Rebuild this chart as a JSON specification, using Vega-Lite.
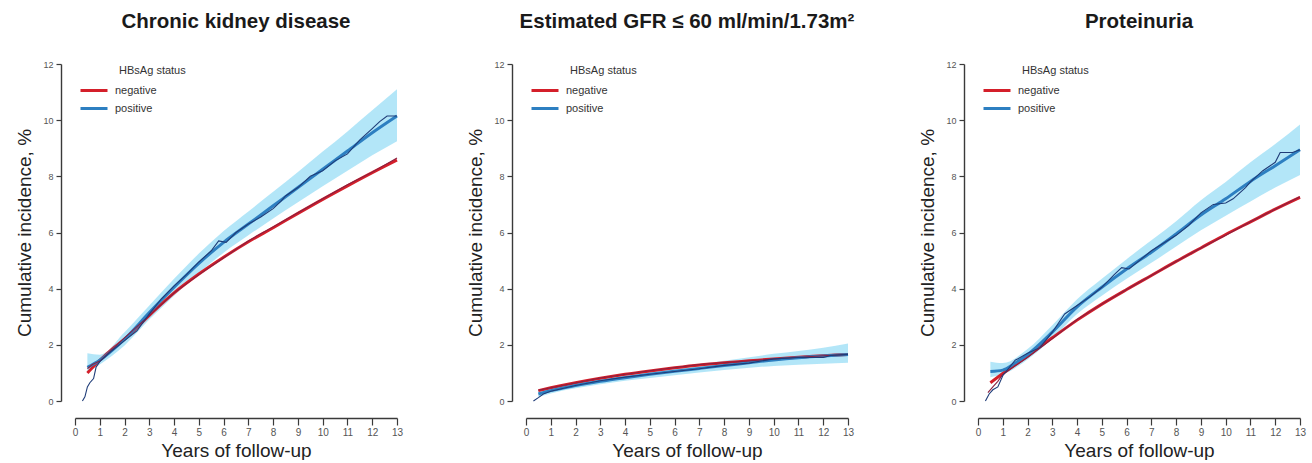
{
  "$schema": "https://vega.github.io/schema/vega-lite/v6.json",
  "padding": {"left": 15, "top": 11, "right": 5, "bottom": 0},
  "background": "white",
  "datasets": {
    "fits": [
      {"panel": "CKD", "status": "negative", "year": 0.5, "value": 1.0},
      {"panel": "CKD", "status": "negative", "year": 1, "value": 1.45},
      {"panel": "CKD", "status": "negative", "year": 1.5, "value": 1.85},
      {"panel": "CKD", "status": "negative", "year": 2, "value": 2.2},
      {"panel": "CKD", "status": "negative", "year": 3, "value": 3.05},
      {"panel": "CKD", "status": "negative", "year": 4, "value": 3.85},
      {"panel": "CKD", "status": "negative", "year": 5, "value": 4.52},
      {"panel": "CKD", "status": "negative", "year": 6, "value": 5.12},
      {"panel": "CKD", "status": "negative", "year": 7, "value": 5.67},
      {"panel": "CKD", "status": "negative", "year": 8, "value": 6.17},
      {"panel": "CKD", "status": "negative", "year": 9, "value": 6.68},
      {"panel": "CKD", "status": "negative", "year": 10, "value": 7.18},
      {"panel": "CKD", "status": "negative", "year": 11, "value": 7.66},
      {"panel": "CKD", "status": "negative", "year": 12, "value": 8.13},
      {"panel": "CKD", "status": "negative", "year": 13, "value": 8.58},
      {"panel": "CKD", "status": "positive", "year": 0.5, "value": 1.2},
      {"panel": "CKD", "status": "positive", "year": 1, "value": 1.45},
      {"panel": "CKD", "status": "positive", "year": 1.5, "value": 1.8},
      {"panel": "CKD", "status": "positive", "year": 2, "value": 2.2},
      {"panel": "CKD", "status": "positive", "year": 3, "value": 3.15},
      {"panel": "CKD", "status": "positive", "year": 4, "value": 4.05},
      {"panel": "CKD", "status": "positive", "year": 5, "value": 4.9},
      {"panel": "CKD", "status": "positive", "year": 6, "value": 5.65},
      {"panel": "CKD", "status": "positive", "year": 7, "value": 6.3},
      {"panel": "CKD", "status": "positive", "year": 8, "value": 6.95},
      {"panel": "CKD", "status": "positive", "year": 9, "value": 7.6},
      {"panel": "CKD", "status": "positive", "year": 10, "value": 8.25},
      {"panel": "CKD", "status": "positive", "year": 11, "value": 8.9},
      {"panel": "CKD", "status": "positive", "year": 12, "value": 9.55},
      {"panel": "CKD", "status": "positive", "year": 13, "value": 10.15},
      {"panel": "GFR", "status": "negative", "year": 0.5, "value": 0.37},
      {"panel": "GFR", "status": "negative", "year": 1, "value": 0.47},
      {"panel": "GFR", "status": "negative", "year": 2, "value": 0.65},
      {"panel": "GFR", "status": "negative", "year": 3, "value": 0.81},
      {"panel": "GFR", "status": "negative", "year": 4, "value": 0.95},
      {"panel": "GFR", "status": "negative", "year": 5, "value": 1.07},
      {"panel": "GFR", "status": "negative", "year": 6, "value": 1.18},
      {"panel": "GFR", "status": "negative", "year": 7, "value": 1.28},
      {"panel": "GFR", "status": "negative", "year": 8, "value": 1.36},
      {"panel": "GFR", "status": "negative", "year": 9, "value": 1.43},
      {"panel": "GFR", "status": "negative", "year": 10, "value": 1.5},
      {"panel": "GFR", "status": "negative", "year": 11, "value": 1.56},
      {"panel": "GFR", "status": "negative", "year": 12, "value": 1.61},
      {"panel": "GFR", "status": "negative", "year": 13, "value": 1.66},
      {"panel": "GFR", "status": "positive", "year": 0.5, "value": 0.25},
      {"panel": "GFR", "status": "positive", "year": 1, "value": 0.37},
      {"panel": "GFR", "status": "positive", "year": 2, "value": 0.55},
      {"panel": "GFR", "status": "positive", "year": 3, "value": 0.7},
      {"panel": "GFR", "status": "positive", "year": 4, "value": 0.83},
      {"panel": "GFR", "status": "positive", "year": 5, "value": 0.95},
      {"panel": "GFR", "status": "positive", "year": 6, "value": 1.06},
      {"panel": "GFR", "status": "positive", "year": 7, "value": 1.16},
      {"panel": "GFR", "status": "positive", "year": 8, "value": 1.26},
      {"panel": "GFR", "status": "positive", "year": 9, "value": 1.36},
      {"panel": "GFR", "status": "positive", "year": 10, "value": 1.46},
      {"panel": "GFR", "status": "positive", "year": 11, "value": 1.54},
      {"panel": "GFR", "status": "positive", "year": 12, "value": 1.6},
      {"panel": "GFR", "status": "positive", "year": 13, "value": 1.66},
      {"panel": "PRO", "status": "negative", "year": 0.5, "value": 0.65},
      {"panel": "PRO", "status": "negative", "year": 1, "value": 0.98},
      {"panel": "PRO", "status": "negative", "year": 2, "value": 1.6},
      {"panel": "PRO", "status": "negative", "year": 3, "value": 2.25},
      {"panel": "PRO", "status": "negative", "year": 4, "value": 2.88},
      {"panel": "PRO", "status": "negative", "year": 5, "value": 3.45},
      {"panel": "PRO", "status": "negative", "year": 6, "value": 3.97},
      {"panel": "PRO", "status": "negative", "year": 7, "value": 4.47},
      {"panel": "PRO", "status": "negative", "year": 8, "value": 4.97},
      {"panel": "PRO", "status": "negative", "year": 9, "value": 5.45},
      {"panel": "PRO", "status": "negative", "year": 10, "value": 5.93},
      {"panel": "PRO", "status": "negative", "year": 11, "value": 6.38},
      {"panel": "PRO", "status": "negative", "year": 12, "value": 6.83},
      {"panel": "PRO", "status": "negative", "year": 13, "value": 7.25},
      {"panel": "PRO", "status": "positive", "year": 0.5, "value": 1.05},
      {"panel": "PRO", "status": "positive", "year": 1, "value": 1.1},
      {"panel": "PRO", "status": "positive", "year": 1.5, "value": 1.35},
      {"panel": "PRO", "status": "positive", "year": 2, "value": 1.65},
      {"panel": "PRO", "status": "positive", "year": 3, "value": 2.45},
      {"panel": "PRO", "status": "positive", "year": 4, "value": 3.35},
      {"panel": "PRO", "status": "positive", "year": 5, "value": 4.05},
      {"panel": "PRO", "status": "positive", "year": 6, "value": 4.7},
      {"panel": "PRO", "status": "positive", "year": 7, "value": 5.3},
      {"panel": "PRO", "status": "positive", "year": 8, "value": 5.95},
      {"panel": "PRO", "status": "positive", "year": 9, "value": 6.62},
      {"panel": "PRO", "status": "positive", "year": 10, "value": 7.2},
      {"panel": "PRO", "status": "positive", "year": 11, "value": 7.82},
      {"panel": "PRO", "status": "positive", "year": 12, "value": 8.38},
      {"panel": "PRO", "status": "positive", "year": 13, "value": 8.95}
    ],
    "bands": [
      {"panel": "CKD", "year": 0.5, "lo": 1.0, "hi": 1.7},
      {"panel": "CKD", "year": 1, "lo": 1.3, "hi": 1.65},
      {"panel": "CKD", "year": 2, "lo": 1.98, "hi": 2.45},
      {"panel": "CKD", "year": 3, "lo": 2.9, "hi": 3.4},
      {"panel": "CKD", "year": 4, "lo": 3.75, "hi": 4.35},
      {"panel": "CKD", "year": 5, "lo": 4.55, "hi": 5.25},
      {"panel": "CKD", "year": 6, "lo": 5.28, "hi": 6.05},
      {"panel": "CKD", "year": 7, "lo": 5.9, "hi": 6.75},
      {"panel": "CKD", "year": 8, "lo": 6.5, "hi": 7.45},
      {"panel": "CKD", "year": 9, "lo": 7.08, "hi": 8.15},
      {"panel": "CKD", "year": 10, "lo": 7.65, "hi": 8.88},
      {"panel": "CKD", "year": 11, "lo": 8.2, "hi": 9.6},
      {"panel": "CKD", "year": 12, "lo": 8.75, "hi": 10.35},
      {"panel": "CKD", "year": 13, "lo": 9.25, "hi": 11.1},
      {"panel": "GFR", "year": 0.5, "lo": 0.15, "hi": 0.38},
      {"panel": "GFR", "year": 1, "lo": 0.27, "hi": 0.48},
      {"panel": "GFR", "year": 2, "lo": 0.45, "hi": 0.66},
      {"panel": "GFR", "year": 4, "lo": 0.72, "hi": 0.95},
      {"panel": "GFR", "year": 6, "lo": 0.92, "hi": 1.2},
      {"panel": "GFR", "year": 8, "lo": 1.1, "hi": 1.43},
      {"panel": "GFR", "year": 10, "lo": 1.25, "hi": 1.68},
      {"panel": "GFR", "year": 12, "lo": 1.33, "hi": 1.9},
      {"panel": "GFR", "year": 13, "lo": 1.36, "hi": 2.05},
      {"panel": "PRO", "year": 0.5, "lo": 0.85, "hi": 1.4},
      {"panel": "PRO", "year": 1, "lo": 0.95, "hi": 1.35},
      {"panel": "PRO", "year": 2, "lo": 1.48, "hi": 1.85},
      {"panel": "PRO", "year": 3, "lo": 2.22, "hi": 2.7},
      {"panel": "PRO", "year": 4, "lo": 3.1, "hi": 3.62},
      {"panel": "PRO", "year": 5, "lo": 3.75, "hi": 4.35},
      {"panel": "PRO", "year": 6, "lo": 4.35, "hi": 5.05},
      {"panel": "PRO", "year": 7, "lo": 4.92, "hi": 5.72},
      {"panel": "PRO", "year": 8, "lo": 5.5, "hi": 6.4},
      {"panel": "PRO", "year": 9, "lo": 6.08, "hi": 7.15},
      {"panel": "PRO", "year": 10, "lo": 6.6, "hi": 7.8},
      {"panel": "PRO", "year": 11, "lo": 7.1, "hi": 8.5},
      {"panel": "PRO", "year": 12, "lo": 7.6, "hi": 9.15},
      {"panel": "PRO", "year": 13, "lo": 8.05, "hi": 9.85}
    ],
    "observed": [
      {"panel": "CKD", "status": "negative", "year": 0.5, "value": 1.15},
      {"panel": "CKD", "status": "negative", "year": 0.7, "value": 1.3},
      {"panel": "CKD", "status": "negative", "year": 1, "value": 1.42},
      {"panel": "CKD", "status": "negative", "year": 2, "value": 2.25},
      {"panel": "CKD", "status": "negative", "year": 3, "value": 3.05},
      {"panel": "CKD", "status": "negative", "year": 4, "value": 3.85},
      {"panel": "CKD", "status": "negative", "year": 5, "value": 4.5},
      {"panel": "CKD", "status": "negative", "year": 6, "value": 5.1},
      {"panel": "CKD", "status": "negative", "year": 7, "value": 5.7},
      {"panel": "CKD", "status": "negative", "year": 8, "value": 6.2},
      {"panel": "CKD", "status": "negative", "year": 9, "value": 6.7},
      {"panel": "CKD", "status": "negative", "year": 10, "value": 7.2},
      {"panel": "CKD", "status": "negative", "year": 11, "value": 7.7},
      {"panel": "CKD", "status": "negative", "year": 12, "value": 8.15},
      {"panel": "CKD", "status": "negative", "year": 13, "value": 8.65},
      {"panel": "CKD", "status": "positive", "year": 0.3, "value": 0},
      {"panel": "CKD", "status": "positive", "year": 0.4, "value": 0.15},
      {"panel": "CKD", "status": "positive", "year": 0.5, "value": 0.5},
      {"panel": "CKD", "status": "positive", "year": 0.6, "value": 0.65},
      {"panel": "CKD", "status": "positive", "year": 0.75, "value": 0.8},
      {"panel": "CKD", "status": "positive", "year": 0.85, "value": 1.2},
      {"panel": "CKD", "status": "positive", "year": 1, "value": 1.4},
      {"panel": "CKD", "status": "positive", "year": 1.5, "value": 1.8},
      {"panel": "CKD", "status": "positive", "year": 2, "value": 2.15},
      {"panel": "CKD", "status": "positive", "year": 2.5, "value": 2.5},
      {"panel": "CKD", "status": "positive", "year": 3, "value": 3.1},
      {"panel": "CKD", "status": "positive", "year": 3.5, "value": 3.65},
      {"panel": "CKD", "status": "positive", "year": 4, "value": 4.1},
      {"panel": "CKD", "status": "positive", "year": 4.5, "value": 4.5},
      {"panel": "CKD", "status": "positive", "year": 5, "value": 4.95},
      {"panel": "CKD", "status": "positive", "year": 5.5, "value": 5.35},
      {"panel": "CKD", "status": "positive", "year": 5.8, "value": 5.7},
      {"panel": "CKD", "status": "positive", "year": 6.1, "value": 5.65},
      {"panel": "CKD", "status": "positive", "year": 6.5, "value": 6.0},
      {"panel": "CKD", "status": "positive", "year": 7, "value": 6.3},
      {"panel": "CKD", "status": "positive", "year": 7.5, "value": 6.55},
      {"panel": "CKD", "status": "positive", "year": 8, "value": 6.85},
      {"panel": "CKD", "status": "positive", "year": 8.3, "value": 7.1},
      {"panel": "CKD", "status": "positive", "year": 8.5, "value": 7.3},
      {"panel": "CKD", "status": "positive", "year": 9, "value": 7.6},
      {"panel": "CKD", "status": "positive", "year": 9.5, "value": 8.0},
      {"panel": "CKD", "status": "positive", "year": 10, "value": 8.2},
      {"panel": "CKD", "status": "positive", "year": 10.5, "value": 8.55},
      {"panel": "CKD", "status": "positive", "year": 11, "value": 8.8},
      {"panel": "CKD", "status": "positive", "year": 11.5, "value": 9.3},
      {"panel": "CKD", "status": "positive", "year": 12, "value": 9.7},
      {"panel": "CKD", "status": "positive", "year": 12.3, "value": 9.95},
      {"panel": "CKD", "status": "positive", "year": 12.6, "value": 10.15},
      {"panel": "CKD", "status": "positive", "year": 13, "value": 10.15},
      {"panel": "GFR", "status": "negative", "year": 0.5, "value": 0.38},
      {"panel": "GFR", "status": "negative", "year": 1, "value": 0.47},
      {"panel": "GFR", "status": "negative", "year": 3, "value": 0.82},
      {"panel": "GFR", "status": "negative", "year": 5, "value": 1.08},
      {"panel": "GFR", "status": "negative", "year": 7, "value": 1.3},
      {"panel": "GFR", "status": "negative", "year": 9, "value": 1.43},
      {"panel": "GFR", "status": "negative", "year": 11, "value": 1.56},
      {"panel": "GFR", "status": "negative", "year": 13, "value": 1.66},
      {"panel": "GFR", "status": "positive", "year": 0.3, "value": 0},
      {"panel": "GFR", "status": "positive", "year": 0.5, "value": 0.12},
      {"panel": "GFR", "status": "positive", "year": 0.7, "value": 0.25},
      {"panel": "GFR", "status": "positive", "year": 1, "value": 0.35},
      {"panel": "GFR", "status": "positive", "year": 2, "value": 0.55},
      {"panel": "GFR", "status": "positive", "year": 3, "value": 0.72},
      {"panel": "GFR", "status": "positive", "year": 4, "value": 0.85},
      {"panel": "GFR", "status": "positive", "year": 5, "value": 0.95},
      {"panel": "GFR", "status": "positive", "year": 6, "value": 1.05},
      {"panel": "GFR", "status": "positive", "year": 7, "value": 1.15},
      {"panel": "GFR", "status": "positive", "year": 8, "value": 1.27},
      {"panel": "GFR", "status": "positive", "year": 9, "value": 1.35},
      {"panel": "GFR", "status": "positive", "year": 10, "value": 1.5},
      {"panel": "GFR", "status": "positive", "year": 11, "value": 1.55},
      {"panel": "GFR", "status": "positive", "year": 12, "value": 1.55},
      {"panel": "GFR", "status": "positive", "year": 12.3, "value": 1.62},
      {"panel": "GFR", "status": "positive", "year": 13, "value": 1.66},
      {"panel": "PRO", "status": "negative", "year": 0.4, "value": 0.3},
      {"panel": "PRO", "status": "negative", "year": 0.6, "value": 0.5},
      {"panel": "PRO", "status": "negative", "year": 0.8, "value": 0.7},
      {"panel": "PRO", "status": "negative", "year": 1, "value": 0.95},
      {"panel": "PRO", "status": "negative", "year": 2, "value": 1.55},
      {"panel": "PRO", "status": "negative", "year": 3, "value": 2.22},
      {"panel": "PRO", "status": "negative", "year": 4, "value": 2.9},
      {"panel": "PRO", "status": "negative", "year": 5, "value": 3.45},
      {"panel": "PRO", "status": "negative", "year": 6, "value": 3.97},
      {"panel": "PRO", "status": "negative", "year": 7, "value": 4.47},
      {"panel": "PRO", "status": "negative", "year": 8, "value": 4.97},
      {"panel": "PRO", "status": "negative", "year": 9, "value": 5.45},
      {"panel": "PRO", "status": "negative", "year": 10, "value": 5.9},
      {"panel": "PRO", "status": "negative", "year": 11, "value": 6.38},
      {"panel": "PRO", "status": "negative", "year": 12, "value": 6.83},
      {"panel": "PRO", "status": "negative", "year": 13, "value": 7.27},
      {"panel": "PRO", "status": "positive", "year": 0.3, "value": 0},
      {"panel": "PRO", "status": "positive", "year": 0.45, "value": 0.25},
      {"panel": "PRO", "status": "positive", "year": 0.6, "value": 0.4},
      {"panel": "PRO", "status": "positive", "year": 0.8, "value": 0.5},
      {"panel": "PRO", "status": "positive", "year": 1, "value": 0.9},
      {"panel": "PRO", "status": "positive", "year": 1.5, "value": 1.45},
      {"panel": "PRO", "status": "positive", "year": 2, "value": 1.7},
      {"panel": "PRO", "status": "positive", "year": 2.5, "value": 1.9},
      {"panel": "PRO", "status": "positive", "year": 3, "value": 2.45},
      {"panel": "PRO", "status": "positive", "year": 3.5, "value": 3.1},
      {"panel": "PRO", "status": "positive", "year": 4, "value": 3.4},
      {"panel": "PRO", "status": "positive", "year": 4.5, "value": 3.7},
      {"panel": "PRO", "status": "positive", "year": 5, "value": 4.05},
      {"panel": "PRO", "status": "positive", "year": 5.5, "value": 4.5},
      {"panel": "PRO", "status": "positive", "year": 5.8, "value": 4.75},
      {"panel": "PRO", "status": "positive", "year": 6.1, "value": 4.7},
      {"panel": "PRO", "status": "positive", "year": 7, "value": 5.35},
      {"panel": "PRO", "status": "positive", "year": 8, "value": 5.9},
      {"panel": "PRO", "status": "positive", "year": 8.5, "value": 6.25},
      {"panel": "PRO", "status": "positive", "year": 9, "value": 6.7},
      {"panel": "PRO", "status": "positive", "year": 9.5, "value": 7.0},
      {"panel": "PRO", "status": "positive", "year": 10, "value": 7.05},
      {"panel": "PRO", "status": "positive", "year": 10.3, "value": 7.2},
      {"panel": "PRO", "status": "positive", "year": 10.8, "value": 7.6},
      {"panel": "PRO", "status": "positive", "year": 11, "value": 7.8},
      {"panel": "PRO", "status": "positive", "year": 11.5, "value": 8.2},
      {"panel": "PRO", "status": "positive", "year": 12, "value": 8.5},
      {"panel": "PRO", "status": "positive", "year": 12.2, "value": 8.85},
      {"panel": "PRO", "status": "positive", "year": 12.7, "value": 8.85},
      {"panel": "PRO", "status": "positive", "year": 13, "value": 8.95}
    ],
    "legendTitle": [{"label": "HBsAg status"}]
  },
  "spacing": 63,
  "resolve": {"scale": {"color": "independent", "stroke": "independent", "x": "independent", "y": "independent"}, "legend": {"color": "independent"}},
  "hconcat": [
    {
      "width": 322, "height": 337,
      "title": {"text": "Chronic kidney disease"},
      "layer": [
        {"data": {"name": "bands"}, "transform": [{"filter": "datum.panel === 'CKD'"}], "mark": {"type": "area", "color": "#8ad8f5", "opacity": 0.65, "interpolate": "monotone"},
         "encoding": {"x": {"field": "year", "type": "quantitative", "scale": {"domain": [0, 13], "nice": false}, "axis": {"title": "Years of follow-up", "values": [0,1,2,3,4,5,6,7,8,9,10,11,12,13], "offset": 17, "labelOverlap": false}}, "y": {"field": "lo", "type": "quantitative", "scale": {"domain": [0, 12], "nice": false}, "axis": {"title": "Cumulative incidence, %", "values": [0,2,4,6,8,10,12], "offset": 14}}, "y2": {"field": "hi"}}},
        {"data": {"name": "fits"}, "transform": [{"filter": "datum.panel === 'CKD'"}], "mark": {"type": "line", "strokeWidth": 3, "interpolate": "monotone"},
         "encoding": {"x": {"field": "year", "type": "quantitative", "scale": {"domain": [0, 13], "nice": false}, "axis": {"title": "Years of follow-up", "values": [0,1,2,3,4,5,6,7,8,9,10,11,12,13], "offset": 17, "labelOverlap": false}}, "y": {"field": "value", "type": "quantitative", "scale": {"domain": [0, 12], "nice": false}, "axis": {"title": "Cumulative incidence, %", "values": [0,2,4,6,8,10,12], "offset": 14}}, "color": {"field": "status", "type": "nominal", "scale": {"domain": ["negative", "positive"], "range": ["#d41f2a", "#2d7fc1"]}, "legend": {"title": null}}}},
        {"data": {"name": "observed"}, "transform": [{"filter": "datum.panel === 'CKD'"}], "mark": {"type": "line", "strokeWidth": 1.1},
         "encoding": {"x": {"field": "year", "type": "quantitative", "scale": {"domain": [0, 13], "nice": false}, "axis": {"title": "Years of follow-up", "values": [0,1,2,3,4,5,6,7,8,9,10,11,12,13], "offset": 17, "labelOverlap": false}}, "y": {"field": "value", "type": "quantitative", "scale": {"domain": [0, 12], "nice": false}, "axis": {"title": "Cumulative incidence, %", "values": [0,2,4,6,8,10,12], "offset": 14}}, "stroke": {"field": "status", "type": "nominal", "scale": {"domain": ["negative", "positive"], "range": ["#8a2040", "#1f3c78"]}, "legend": null}}},
        {"data": {"name": "legendTitle"}, "mark": {"type": "text", "align": "left", "baseline": "middle", "fontSize": 11, "color": "#333333"},
         "encoding": {"x": {"datum": 1.78, "type": "quantitative", "scale": {"domain": [0, 13], "nice": false}, "axis": {"title": "Years of follow-up", "values": [0,1,2,3,4,5,6,7,8,9,10,11,12,13], "offset": 17, "labelOverlap": false}}, "y": {"datum": 11.75, "type": "quantitative", "scale": {"domain": [0, 12], "nice": false}, "axis": {"title": "Cumulative incidence, %", "values": [0,2,4,6,8,10,12], "offset": 14}}, "text": {"field": "label"}}}
      ]
    },
    {
      "width": 322, "height": 337,
      "title": {"text": "Estimated GFR ≤ 60 ml/min/1.73m²"},
      "layer": [
        {"data": {"name": "bands"}, "transform": [{"filter": "datum.panel === 'GFR'"}], "mark": {"type": "area", "color": "#8ad8f5", "opacity": 0.65, "interpolate": "monotone"},
         "encoding": {"x": {"field": "year", "type": "quantitative", "scale": {"domain": [0, 13], "nice": false}, "axis": {"title": "Years of follow-up", "values": [0,1,2,3,4,5,6,7,8,9,10,11,12,13], "offset": 17, "labelOverlap": false}}, "y": {"field": "lo", "type": "quantitative", "scale": {"domain": [0, 12], "nice": false}, "axis": {"title": "Cumulative incidence, %", "values": [0,2,4,6,8,10,12], "offset": 14}}, "y2": {"field": "hi"}}},
        {"data": {"name": "fits"}, "transform": [{"filter": "datum.panel === 'GFR'"}], "mark": {"type": "line", "strokeWidth": 3, "interpolate": "monotone"},
         "encoding": {"x": {"field": "year", "type": "quantitative", "scale": {"domain": [0, 13], "nice": false}, "axis": {"title": "Years of follow-up", "values": [0,1,2,3,4,5,6,7,8,9,10,11,12,13], "offset": 17, "labelOverlap": false}}, "y": {"field": "value", "type": "quantitative", "scale": {"domain": [0, 12], "nice": false}, "axis": {"title": "Cumulative incidence, %", "values": [0,2,4,6,8,10,12], "offset": 14}}, "color": {"field": "status", "type": "nominal", "scale": {"domain": ["negative", "positive"], "range": ["#d41f2a", "#2d7fc1"]}, "legend": {"title": null}}}},
        {"data": {"name": "observed"}, "transform": [{"filter": "datum.panel === 'GFR'"}], "mark": {"type": "line", "strokeWidth": 1.1},
         "encoding": {"x": {"field": "year", "type": "quantitative", "scale": {"domain": [0, 13], "nice": false}, "axis": {"title": "Years of follow-up", "values": [0,1,2,3,4,5,6,7,8,9,10,11,12,13], "offset": 17, "labelOverlap": false}}, "y": {"field": "value", "type": "quantitative", "scale": {"domain": [0, 12], "nice": false}, "axis": {"title": "Cumulative incidence, %", "values": [0,2,4,6,8,10,12], "offset": 14}}, "stroke": {"field": "status", "type": "nominal", "scale": {"domain": ["negative", "positive"], "range": ["#8a2040", "#1f3c78"]}, "legend": null}}},
        {"data": {"name": "legendTitle"}, "mark": {"type": "text", "align": "left", "baseline": "middle", "fontSize": 11, "color": "#333333"},
         "encoding": {"x": {"datum": 1.78, "type": "quantitative", "scale": {"domain": [0, 13], "nice": false}, "axis": {"title": "Years of follow-up", "values": [0,1,2,3,4,5,6,7,8,9,10,11,12,13], "offset": 17, "labelOverlap": false}}, "y": {"datum": 11.75, "type": "quantitative", "scale": {"domain": [0, 12], "nice": false}, "axis": {"title": "Cumulative incidence, %", "values": [0,2,4,6,8,10,12], "offset": 14}}, "text": {"field": "label"}}}
      ]
    },
    {
      "width": 322, "height": 337,
      "title": {"text": "Proteinuria"},
      "layer": [
        {"data": {"name": "bands"}, "transform": [{"filter": "datum.panel === 'PRO'"}], "mark": {"type": "area", "color": "#8ad8f5", "opacity": 0.65, "interpolate": "monotone"},
         "encoding": {"x": {"field": "year", "type": "quantitative", "scale": {"domain": [0, 13], "nice": false}, "axis": {"title": "Years of follow-up", "values": [0,1,2,3,4,5,6,7,8,9,10,11,12,13], "offset": 17, "labelOverlap": false}}, "y": {"field": "lo", "type": "quantitative", "scale": {"domain": [0, 12], "nice": false}, "axis": {"title": "Cumulative incidence, %", "values": [0,2,4,6,8,10,12], "offset": 14}}, "y2": {"field": "hi"}}},
        {"data": {"name": "fits"}, "transform": [{"filter": "datum.panel === 'PRO'"}], "mark": {"type": "line", "strokeWidth": 3, "interpolate": "monotone"},
         "encoding": {"x": {"field": "year", "type": "quantitative", "scale": {"domain": [0, 13], "nice": false}, "axis": {"title": "Years of follow-up", "values": [0,1,2,3,4,5,6,7,8,9,10,11,12,13], "offset": 17, "labelOverlap": false}}, "y": {"field": "value", "type": "quantitative", "scale": {"domain": [0, 12], "nice": false}, "axis": {"title": "Cumulative incidence, %", "values": [0,2,4,6,8,10,12], "offset": 14}}, "color": {"field": "status", "type": "nominal", "scale": {"domain": ["negative", "positive"], "range": ["#d41f2a", "#2d7fc1"]}, "legend": {"title": null}}}},
        {"data": {"name": "observed"}, "transform": [{"filter": "datum.panel === 'PRO'"}], "mark": {"type": "line", "strokeWidth": 1.1},
         "encoding": {"x": {"field": "year", "type": "quantitative", "scale": {"domain": [0, 13], "nice": false}, "axis": {"title": "Years of follow-up", "values": [0,1,2,3,4,5,6,7,8,9,10,11,12,13], "offset": 17, "labelOverlap": false}}, "y": {"field": "value", "type": "quantitative", "scale": {"domain": [0, 12], "nice": false}, "axis": {"title": "Cumulative incidence, %", "values": [0,2,4,6,8,10,12], "offset": 14}}, "stroke": {"field": "status", "type": "nominal", "scale": {"domain": ["negative", "positive"], "range": ["#8a2040", "#1f3c78"]}, "legend": null}}},
        {"data": {"name": "legendTitle"}, "mark": {"type": "text", "align": "left", "baseline": "middle", "fontSize": 11, "color": "#333333"},
         "encoding": {"x": {"datum": 1.78, "type": "quantitative", "scale": {"domain": [0, 13], "nice": false}, "axis": {"title": "Years of follow-up", "values": [0,1,2,3,4,5,6,7,8,9,10,11,12,13], "offset": 17, "labelOverlap": false}}, "y": {"datum": 11.75, "type": "quantitative", "scale": {"domain": [0, 12], "nice": false}, "axis": {"title": "Cumulative incidence, %", "values": [0,2,4,6,8,10,12], "offset": 14}}, "text": {"field": "label"}}}
      ]
    }
  ],
  "config": {
    "font": "Liberation Sans",
    "view": {"stroke": null},
    "title": {"fontSize": 20.5, "fontWeight": "bold", "color": "#1a1a1a", "anchor": "middle", "frame": "group", "offset": 28},
    "axis": {"grid": false, "domainColor": "#3a3a3a", "tickColor": "#3a3a3a", "domainWidth": 1.4, "tickWidth": 1.2, "tickSize": 5, "labelColor": "#555555", "labelFontSize": 9, "labelPadding": 3, "titleFontSize": 19, "titleFontWeight": "normal", "titleColor": "#222222", "titlePadding": 8},
    "axisX": {"tickSize": 7, "labelPadding": 2, "titlePadding": 4, "labelFontSize": 10, "labelOverlap": false, "labelFlush": false},
    "legend": {"orient": "none", "legendX": 8.5, "legendY": 16, "labelFontSize": 11, "labelColor": "#333333", "symbolType": "M-1.5,0H1.5", "symbolStrokeWidth": 3, "symbolSize": 324, "rowPadding": 1, "labelOffset": 10.5}
  }
}
